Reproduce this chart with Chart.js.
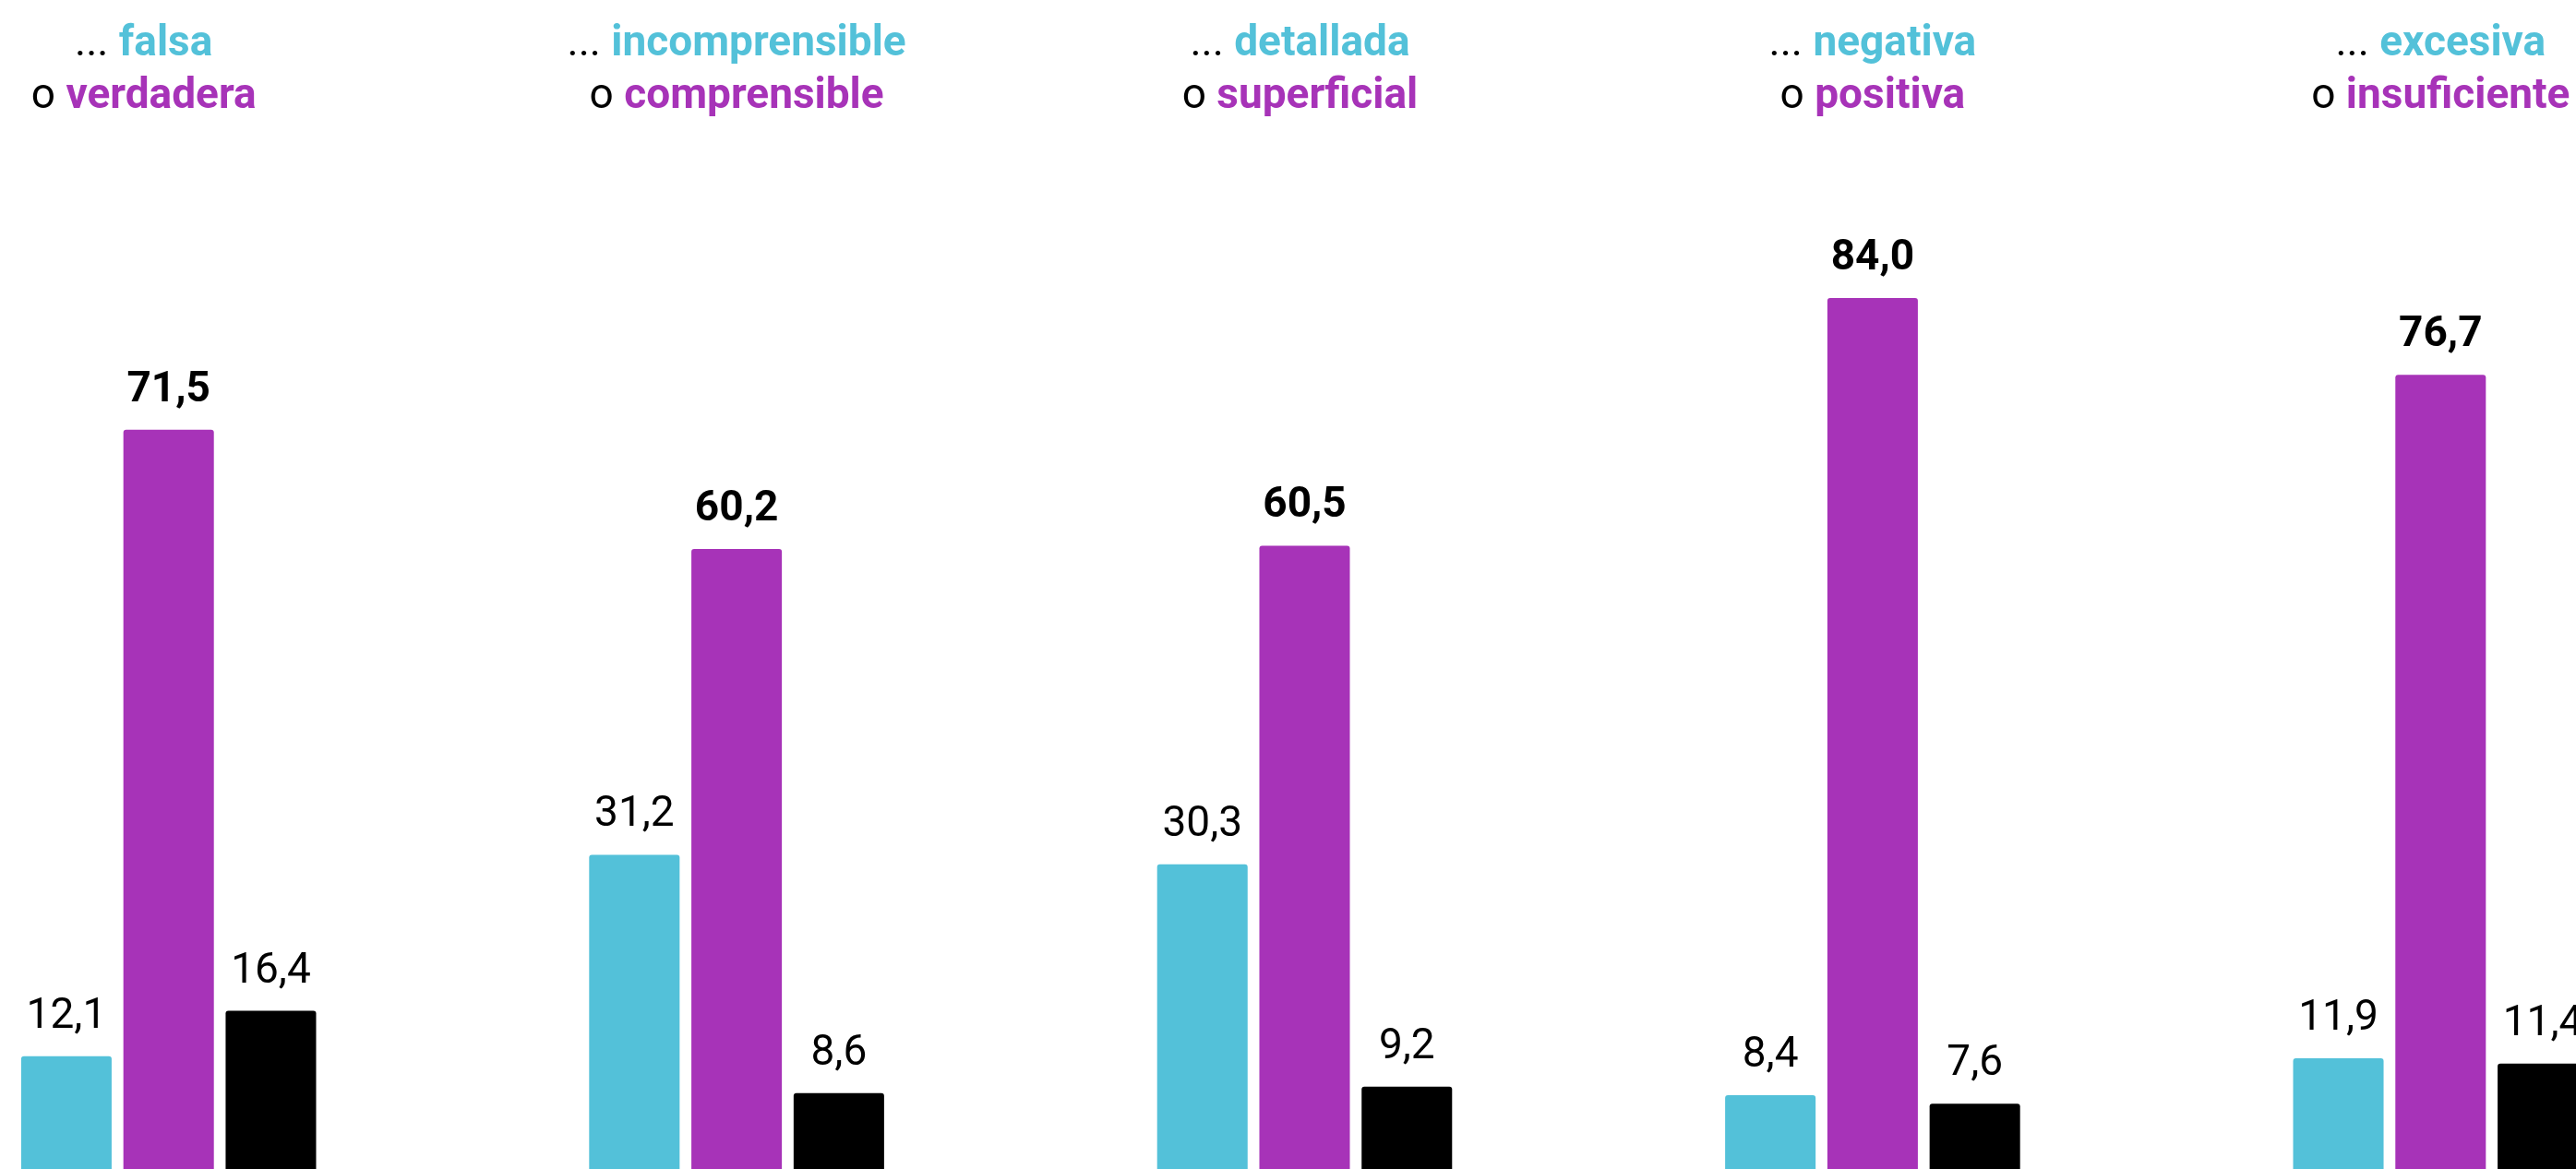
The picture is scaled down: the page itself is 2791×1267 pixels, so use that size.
<!DOCTYPE html>
<html>
<head>
<meta charset="utf-8">
<script src="https://cdn.jsdelivr.net/npm/chart.js@4"></script>
<style>
    html, body { margin: 0; padding: 0; background: #fff; overflow: hidden; width: 2791px; height: 1267px; }
    #wrap { position: absolute; left: -125px; top: 0; width: 3077px; height: 1300px; }
</style>
</head>
<body>
<div id="wrap"><canvas id="bars" width="3077" height="1300"></canvas></div>
<script>
(function () {
    "use strict";

    // Data
    var firstWords = ["falsa", "incomprensible", "detallada", "negativa", "excesiva"];
    var secondWords = ["verdadera", "comprensible", "superficial", "positiva", "insuficiente"];
    var firstValues = [12.1, 31.2, 30.3, 8.4, 11.9];
    var secondValues = [71.5, 60.2, 60.5, 84.0, 76.7];
    var otherValues = [16.4, 8.6, 9.2, 7.6, 11.4];

    var CYAN = "#53c1d9";
    var PURPLE = "#a733b8";
    var FONT = "Roboto, 'Noto Sans', sans-serif";

    // small horizontal nudges for the header text of each group
    var headerNudge = [-27, 0, -5, 0, 0];

    function fmt(v) {
        return v.toFixed(1).replace(".", ",");
    }

    // Two-line header above each group: "... word" / "o word"
    var headers = {
        id: "headers",
        afterDraw: function (chart) {
            var ctx = chart.ctx;
            var x = chart.scales.x;
            ctx.save();
            ctx.textBaseline = "alphabetic";
            ctx.textAlign = "left";
            chart.data.labels.forEach(function (lab, i) {
                var cx = x.getPixelForValue(i) + headerNudge[i];
                var lines = [
                    { pre: "... ", word: firstWords[i], color: CYAN, y: 60 },
                    { pre: "o ", word: secondWords[i], color: PURPLE, y: 117 }
                ];
                lines.forEach(function (ln) {
                    ctx.font = "400 46px " + FONT;
                    var w1 = ctx.measureText(ln.pre).width;
                    ctx.font = "700 46px " + FONT;
                    var w2 = ctx.measureText(ln.word).width;
                    var left = cx - (w1 + w2) / 2;
                    ctx.font = "400 46px " + FONT;
                    ctx.fillStyle = "#000";
                    ctx.fillText(ln.pre, left, ln.y);
                    ctx.font = "700 46px " + FONT;
                    ctx.fillStyle = ln.color;
                    ctx.fillText(ln.word, left + w1, ln.y);
                });
            });
            ctx.restore();
        }
    };

    // Value labels above the bars
    var valueLabels = {
        id: "valueLabels",
        afterDatasetsDraw: function (chart) {
            var ctx = chart.ctx;
            ctx.save();
            ctx.textAlign = "center";
            ctx.textBaseline = "alphabetic";
            ctx.fillStyle = "#000";
            chart.data.datasets.forEach(function (ds, di) {
                var meta = chart.getDatasetMeta(di);
                ctx.font = (di === 1 ? "700 " : "400 ") + "46px " + FONT;
                meta.data.forEach(function (bar, i) {
                    ctx.fillText(fmt(ds.data[i]), bar.x, bar.y - 31);
                });
            });
            ctx.restore();
        }
    };

    var ctx = document.getElementById("bars").getContext("2d");
    var chart = new Chart(ctx, {
        type: "bar",
        data: {
            labels: firstWords,
            datasets: [
                { data: firstValues, backgroundColor: CYAN },
                { data: secondValues, backgroundColor: PURPLE },
                { data: otherValues, backgroundColor: "#000" }
            ]
        },
        options: {
            responsive: false,
            animation: false,
            devicePixelRatio: 1,
            layout: { padding: { top: 140, bottom: 17, left: 0, right: 0 } },
            datasets: {
                bar: {
                    categoryPercentage: 0.54,
                    barPercentage: 0.885,
                    borderRadius: 3,
                    borderSkipped: "bottom"
                }
            },
            plugins: {
                legend: { display: false },
                tooltip: { enabled: false }
            },
            scales: {
                x: { display: false, grid: { display: false } },
                y: { display: false, min: 0, max: 100, grid: { display: false } }
            }
        },
        plugins: [headers, valueLabels]
    });
})();
</script>
</body>
</html>
